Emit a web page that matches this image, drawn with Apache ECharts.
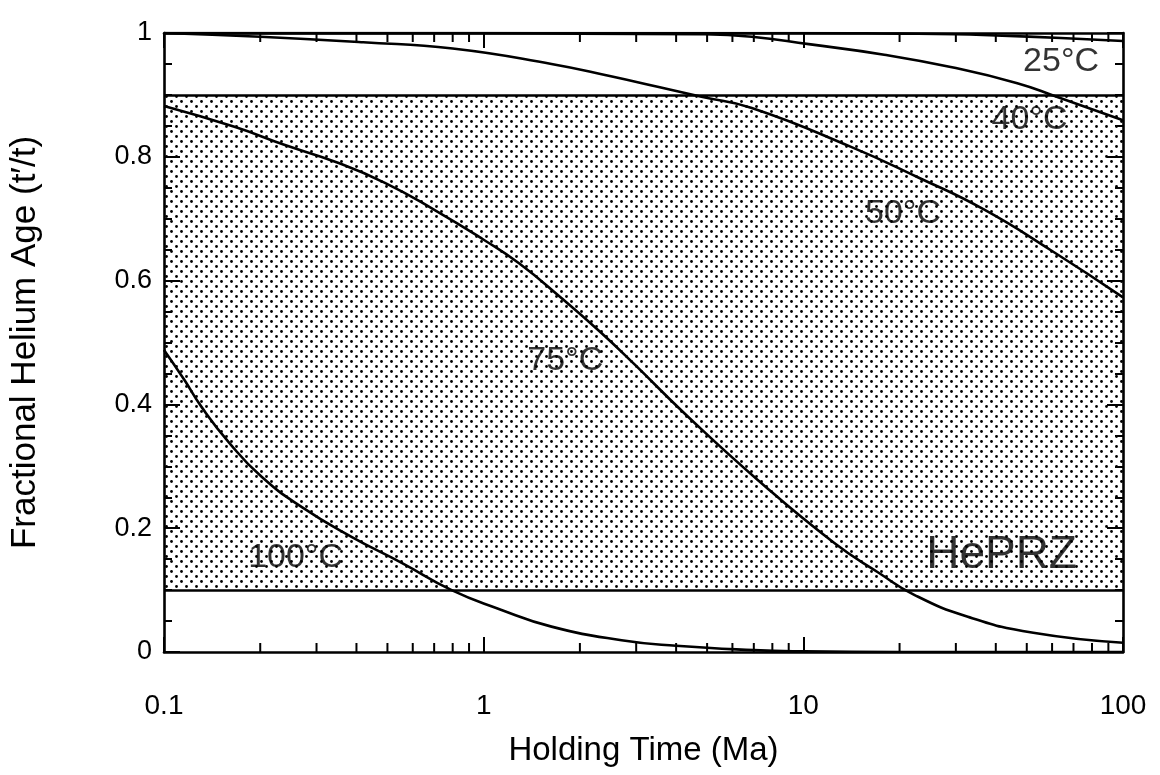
<!DOCTYPE html>
<html>
<head>
<meta charset="utf-8">
<title>Fractional Helium Age vs Holding Time</title>
<script src="https://cdn.jsdelivr.net/npm/echarts@6/dist/echarts.min.js"></script>
<style>
  html, body { margin: 0; padding: 0; background: #fff; }
  #chart { width: 1160px; height: 775px; }
</style>
</head>
<body>
<div id="chart"></div>
<script>
// Isothermal holding curves: fractional He age (t'/t) against holding time (Ma)
const time25 = [0.1, 1, 10, 20, 30, 40, 64, 100];
const frac25 = [1.0, 1.0, 1.0, 0.999, 0.998, 0.996, 0.992, 0.987];

const time40 = [0.1, 1, 2, 4.8, 6.9, 10.4, 17.9, 28.9, 46.7, 62, 100];
const frac40 = [1.0, 1.0, 0.999, 0.998, 0.994, 0.982, 0.965, 0.945, 0.919, 0.897, 0.859];

const time50 = [0.1, 0.2, 0.42, 0.8, 1.63, 2.5, 3.5, 4.8, 6.9, 14.1, 22.8, 36.7, 59.5, 100];
const frac50 = [1.0, 0.994, 0.985, 0.975, 0.95, 0.93, 0.913, 0.897, 0.879, 0.816, 0.767, 0.715, 0.649, 0.573];

const time75 = [0.1, 0.167, 0.239, 0.343, 0.491, 0.703, 1.0, 1.29, 1.75, 2.34, 2.96, 4.26, 7.2, 12.5, 17.2, 22.3, 32.7, 52.4, 100];
const frac75 = [0.882, 0.848, 0.819, 0.792, 0.758, 0.714, 0.666, 0.628, 0.572, 0.515, 0.465, 0.385, 0.278, 0.176, 0.128, 0.092, 0.057, 0.031, 0.015];

const time100 = [0.1, 0.116, 0.131, 0.16, 0.202, 0.27, 0.386, 0.554, 0.794, 1.11, 1.63, 2.7, 4, 7, 10, 20, 100];
const frac100 = [0.488, 0.439, 0.396, 0.338, 0.283, 0.234, 0.186, 0.144, 0.1, 0.07, 0.041, 0.019, 0.01, 0.003, 0.001, 0.0, 0.0];

// Helium partial retention zone limits (t'/t)
const przBounds = [0.1, 0.9];

// In-plot annotations
const noteText = ['25°C', '40°C', '50°C', '75°C', '100°C'];
const noteTime = [64, 51, 20.5, 1.8, 0.258];
const noteFrac = [0.953, 0.86, 0.709, 0.47, 0.152];
const przText = 'HePRZ';
const przTime = 41.7;
const przFrac = 0.157;

// Axis ticks
const timeTicks = [0.1, 1, 10, 100];
const timeMinorTicks = [0.2, 0.3, 0.4, 0.5, 0.6, 0.7, 0.8, 0.9,
                        2, 3, 4, 5, 6, 7, 8, 9,
                        20, 30, 40, 50, 60, 70, 80, 90];
const fracTicks = [0, 0.2, 0.4, 0.6, 0.8, 1];

const FONT = "'Liberation Sans', Arial, Helvetica, sans-serif";

function pairs(xs, ys) { return xs.map((x, i) => [x, ys[i]]); }

// Stipple fill for the retention zone
function stipple() {
  const c = document.createElement('canvas');
  c.width = 10; c.height = 10;
  const g = c.getContext('2d');
  g.fillStyle = '#000';
  g.beginPath(); g.arc(1.5, 1.5, 1.4, 0, Math.PI * 2); g.fill();
  g.beginPath(); g.arc(6.5, 6.5, 1.4, 0, Math.PI * 2); g.fill();
  return c;
}

const chart = echarts.init(document.getElementById('chart'), null, { renderer: 'canvas' });

const curveStyle = { color: '#000', width: 2.6 };
function curve(name, xs, ys) {
  return {
    name: name, type: 'line', data: pairs(xs, ys),
    smooth: 0.5, symbol: 'none',
    lineStyle: curveStyle, z: 5, silent: true
  };
}

const logAxisBase = {
  type: 'log', logBase: 10, min: timeTicks[0], max: timeTicks[timeTicks.length - 1],
  axisLine: { show: true, onZero: false, lineStyle: { color: '#000', width: 2.6 } },
  axisTick: { show: true, inside: true, length: 15, lineStyle: { color: '#000', width: 2 } },
  splitLine: { show: false }
};
const valAxisBase = {
  type: 'value', min: fracTicks[0], max: fracTicks[fracTicks.length - 1], interval: 0.2,
  axisLine: { show: true, onZero: false, lineStyle: { color: '#000', width: 2.6 } },
  axisTick: { show: true, inside: true, length: 16, lineStyle: { color: '#000', width: 2 } },
  minorTick: { show: true, splitNumber: 4, length: 8, lineStyle: { color: '#000', width: 2 } },
  splitLine: { show: false }
};

chart.setOption({
  animation: false,
  backgroundColor: '#fff',
  grid: { left: 162, right: 37, top: 33, bottom: 123 },
  xAxis: [
    Object.assign({}, logAxisBase, {
      position: 'bottom',
      name: 'Holding Time (Ma)', nameLocation: 'middle', nameGap: 82,
      nameTextStyle: { color: '#000', fontSize: 33, fontFamily: FONT },
      axisLabel: { color: '#000', fontSize: 28, fontFamily: FONT, margin: 40 }
    }),
    Object.assign({}, logAxisBase, { position: 'top', axisLabel: { show: false } })
  ],
  yAxis: [
    Object.assign({}, valAxisBase, {
      position: 'left',
      name: 'Fractional Helium Age (t\u2032/t)', nameLocation: 'middle', nameGap: 121,
      nameTextStyle: { color: '#000', fontSize: 35, fontFamily: FONT },
      axisLabel: { color: '#000', fontSize: 27, fontFamily: FONT, margin: 12 }
    }),
    Object.assign({}, valAxisBase, { position: 'right', axisLabel: { show: false } })
  ],
  series: [
    {
      // retention zone band and its limits
      name: 'HePRZ', type: 'line', data: [], silent: true, z: 1,
      markArea: {
        silent: true,
        itemStyle: { color: { image: stipple(), repeat: 'repeat' } },
        data: [[{ yAxis: przBounds[0] }, { yAxis: przBounds[1] }]]
      },
      markLine: {
        silent: true, symbol: 'none', label: { show: false },
        lineStyle: { color: '#000', width: 2.6, type: 'solid' },
        data: przBounds.map(v => ({ yAxis: v }))
      }
    },
    curve('25°C', time25, frac25),
    curve('40°C', time40, frac40),
    curve('50°C', time50, frac50),
    curve('75°C', time75, frac75),
    curve('100°C', time100, frac100),
    {
      name: 'notes', type: 'scatter', symbolSize: 0, silent: true, z: 6,
      data: noteText.map((t, i) => ({ name: t, value: [noteTime[i], noteFrac[i]] })),
      label: {
        show: true, position: 'inside', formatter: p => p.name,
        color: '#000', fontSize: 34, fontFamily: FONT
      }
    },
    {
      name: 'zone', type: 'scatter', symbolSize: 0, silent: true, z: 6,
      data: [{ name: przText, value: [przTime, przFrac] }],
      label: {
        show: true, position: 'inside', formatter: p => p.name,
        color: '#000', fontSize: 46, fontFamily: FONT
      }
    },
    {
      // log-axis minor ticks on bottom and top frame
      name: 'minorTicks', type: 'custom', silent: true, z: 7, clip: false,
      data: timeMinorTicks.map(v => [v, 0.5]),
      encode: { x: 0, y: 1 },
      renderItem: function (params, api) {
        const x = api.coord([api.value(0), 0.5])[0];
        const cs = params.coordSys;
        const st = { stroke: '#000', lineWidth: 2 };
        return {
          type: 'group',
          children: [
            { type: 'line', shape: { x1: x, y1: cs.y + cs.height, x2: x, y2: cs.y + cs.height - 9 }, style: st },
            { type: 'line', shape: { x1: x, y1: cs.y, x2: x, y2: cs.y + 9 }, style: st }
          ]
        };
      }
    }
  ]
});
</script>
</body>
</html>
